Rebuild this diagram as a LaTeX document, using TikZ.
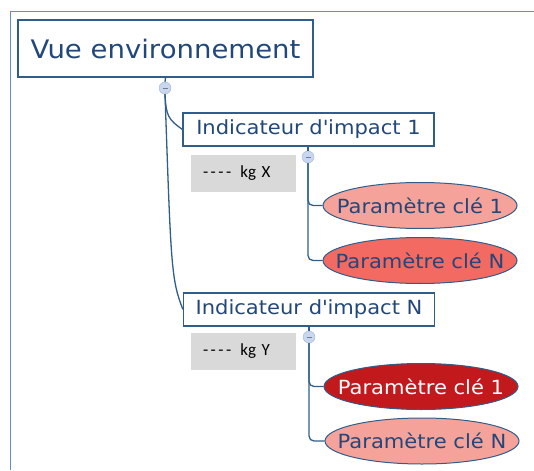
\documentclass[tikz,border=0pt]{standalone}
\usepackage{fontspec}
\setmainfont{DejaVu Sans}[FakeStretch=1.08]
\newfontfamily\calfont{Carlito}
\usetikzlibrary{shapes.geometric}

\definecolor{frameblue}{HTML}{5E8FD6}
\definecolor{boxblue}{HTML}{2F5D8C}
\definecolor{textblue}{HTML}{22477A}
\definecolor{togglefill}{HTML}{C9D7EE}
\definecolor{toggledraw}{HTML}{9DB5DC}
\definecolor{salmon}{HTML}{F5A29A}
\definecolor{midred}{HTML}{F26A62}
\definecolor{darkred}{HTML}{C21A1C}

\newcommand{\dashrun}{-\kern2.5pt-\kern2.5pt-\kern2.5pt-}

\tikzset{
    RootStyle/.style={draw=boxblue, line width=1.1pt, text=textblue, minimum width=295pt, minimum height=57pt, font=\fontsize{25.5}{30}\selectfont},
    IndicStyle/.style={draw=boxblue, line width=1.1pt, text=textblue, minimum width=251pt, minimum height=33pt, font=\fontsize{19.5}{22}\selectfont},
    ValueStyle/.style={fill=black!15, inner xsep=12pt, text width=81pt, align=left, minimum height=37pt, font=\calfont\fontsize{17}{20}\selectfont},
    ParamStyle/.style={ellipse, draw=boxblue, line width=1pt, text=textblue, minimum width=194pt, minimum height=46pt, inner xsep=-20pt, inner ysep=0pt, font=\fontsize{19.5}{22}\selectfont},
    ToggleStyle/.style={circle, fill=togglefill, draw=toggledraw, minimum size=12pt, inner sep=0pt,
        path picture={\draw[toggledraw!70!black, line width=0.8pt] ([xshift=-2.5pt]path picture bounding box.center) -- ([xshift=2.5pt]path picture bounding box.center);}},
    EdgeStyle/.style={draw=boxblue, line width=1.3pt}
}

\begin{document}
\begin{tikzpicture}[x=1pt, y=-1pt]
    \useasboundingbox (0,0) rectangle (534,470);
    \draw[frameblue, line width=1pt] (534,12) -- (10,12) -- (10,470);

    \node[RootStyle]  (root) at (165.5,48.5) {Vue environnement};
    \node[IndicStyle] (ind1) at (308.5,129.5) {Indicateur d\textquotesingle impact 1};
    \node[IndicStyle] (indN) at (309,309.5)  {Indicateur d\textquotesingle impact N};

    \node[ValueStyle] (kgX) at (243.5,173.5) {\dashrun\hspace{9pt}kg X};
    \node[ValueStyle] (kgY) at (243.5,351)   {\dashrun\hspace{9pt}kg Y};

    \node[ToggleStyle] (t0) at (165,88)  {};
    \node[ToggleStyle] (t1) at (308,157) {};
    \node[ToggleStyle] (tN) at (309,337) {};

    \tikzset{ParamStyle/.append style={fill=salmon}}
    \node[ParamStyle] (p11) at (420,205.5) {Paramètre clé 1};
    \node[ParamStyle] (pNN) at (422,441)   {Paramètre clé N};
    \tikzset{ParamStyle/.append style={fill=midred}}
    \node[ParamStyle] (p1N) at (420,260.5) {Paramètre clé N};
    \tikzset{ParamStyle/.append style={fill=darkred, text=white}}
    \node[ParamStyle] (pN1) at (421,386.5) {Paramètre clé 1};

    \draw[EdgeStyle] (root.south) -- (t0.north);
    \draw[EdgeStyle] (ind1.south -| t1) -- (t1.north);
    \draw[EdgeStyle] (indN.south -| tN) -- (tN.north);

    \draw[EdgeStyle] (t0.south) .. controls +(1,22) and +(-14,-10) .. (ind1.west);
    \draw[EdgeStyle] (t0.south) .. controls +(6,170) and +(-12,-30) .. (indN.west);

    \tikzset{EdgeStyle/.append style={rounded corners=5pt}}
    \draw[EdgeStyle] (t1.south) |- (p11.west);
    \draw[EdgeStyle] (t1.south) |- (p1N.west);
    \draw[EdgeStyle] (tN.south) |- (pN1.west);
    \draw[EdgeStyle] (tN.south) |- (pNN.west);
\end{tikzpicture}
\end{document}
